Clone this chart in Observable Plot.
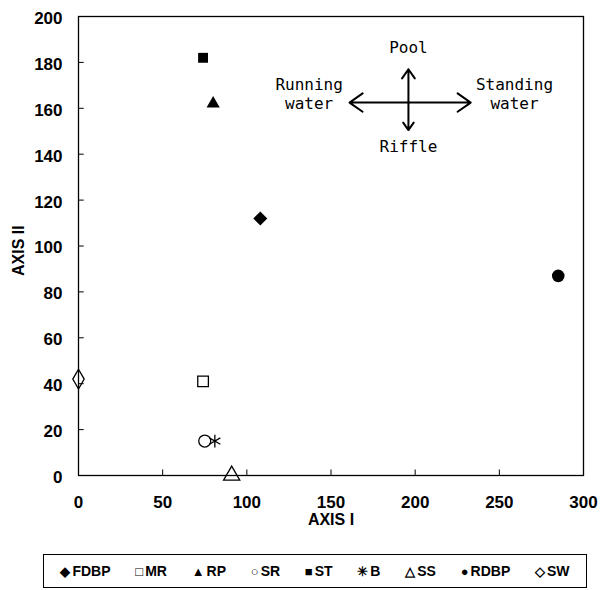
<!DOCTYPE html>
<html>
<head>
<meta charset="utf-8">
<script src="https://cdn.jsdelivr.net/npm/d3@7"></script>
<script src="https://cdn.jsdelivr.net/npm/@observablehq/plot@0.6"></script>
<style>
  body { margin: 0; background: #fff; }
  #wrap { position: relative; width: 600px; height: 590px; }
  #legend {
    position: absolute; left: 43px; top: 554px; width: 544px; height: 34px;
    border: 1.2px solid #000; box-sizing: border-box;
    display: flex; align-items: center; justify-content: space-around;
    font-family: "Liberation Sans", Arial, sans-serif; font-weight: bold; font-size: 14px;
    padding: 0 4px;
  }
  #legend span.sym { font-size: 13px; margin-right: 2px; }
</style>
</head>
<body>
<div id="wrap"><div id="chart"></div><div id="legend"></div></div>
<script>
// Data
const sites  = ["FDBP", "MR", "RP", "SR", "ST", "B", "SS", "RDBP", "SW"];
const axis1  = [108, 74, 80, 75, 74, 81, 91, 285, 0];
const axis2  = [112, 41, 162, 15, 182, 15, 0, 87, 42];
const symbols = ["diamond2", "square", "triangle2", "circle", "square2", "asterisk", "triangle", "circle", "diamond"];
const filled  = [true, false, true, false, true, false, false, true, false];
const legendGlyphs = ["◆", "□", "▲", "○", "■", "✳", "△", "●", "◇"];

const xTicks = [0, 50, 100, 150, 200, 250, 300];
const yTicks = [0, 20, 40, 60, 80, 100, 120, 140, 160, 180, 200];

// Annotation (arrow cross) in data units
const arrows = [
  {x1: 196, y1: 162.5, x2: 161, y2: 162.5},
  {x1: 196, y1: 162.5, x2: 233, y2: 162.5},
  {x1: 196, y1: 162.5, x2: 196, y2: 177},
  {x1: 196, y1: 162.5, x2: 196, y2: 150.5}
];
const annoText = ["Pool", "Riffle", "Running", "water", "Standing", "water"];
const annoX    = [196, 196, 137, 137, 259, 259];
const annoY    = [186.5, 143, 170.4, 162.1, 170.4, 162.1];

const pts = sites.map((s, i) => ({site: s, x: axis1[i], y: axis2[i], symbol: symbols[i], filled: filled[i]}));
const annos = annoText.map((t, i) => ({t, x: annoX[i], y: annoY[i]}));

const chart = Plot.plot({
  width: 600,
  height: 545,
  marginTop: 16,
  marginBottom: 70,
  marginLeft: 78,
  marginRight: 17,
  style: {fontFamily: "Liberation Sans, Arial, sans-serif", fontSize: "17px", color: "#000", background: "#fff"},
  x: {domain: [0, 300]},
  y: {domain: [0, 200]},
  marks: [
    Plot.frame({stroke: "#000", strokeWidth: 1.3}),
    Plot.axisX(xTicks, {tickSize: 0, tickPadding: 20, label: null, fontWeight: "bold", fontSize: 17}),
    Plot.axisY(yTicks, {tickSize: 0, tickPadding: 16, label: null, fontWeight: "bold", fontSize: 17, dy: 2}),
    Plot.ruleX(xTicks.slice(1, -1), {y1: 0, y2: 2.4, stroke: "#000", strokeWidth: 1}),
    Plot.ruleY(yTicks.slice(1, -1), {x1: 0, x2: 3.4, stroke: "#000", strokeWidth: 1}),
    Plot.text(["AXIS I"], {frameAnchor: "bottom", dy: 49, fontWeight: "bold", fontSize: 16}),
    Plot.text(["AXIS II"], {frameAnchor: "left", dx: -60, dy: 30, rotate: -90, fontWeight: "bold", fontSize: 16}),
    Plot.arrow(arrows, {x1: "x1", y1: "y1", x2: "x2", y2: "y2", stroke: "#000", strokeWidth: 2, headLength: 12, headAngle: 70}),
    Plot.text(annos, {x: "x", y: "y", text: "t", fontFamily: "DejaVu Sans Mono", fontSize: 16, fill: "#000"}),
    Plot.dot(pts.filter(d => d.filled), {x: "x", y: "y", symbol: d => d.symbol, fill: "#000", stroke: "none", r: 6.3}),
    Plot.dot(pts.filter(d => !d.filled), {x: "x", y: "y", symbol: d => d.symbol, fill: "none", stroke: "#000", strokeWidth: 1.3, r: 6})
  ]
});
document.getElementById("chart").appendChild(chart);

const legend = document.getElementById("legend");
sites.forEach((s, i) => {
  const item = document.createElement("div");
  item.innerHTML = `<span class="sym">${legendGlyphs[i]}</span>${s}`;
  legend.appendChild(item);
});
</script>
</body>
</html>
